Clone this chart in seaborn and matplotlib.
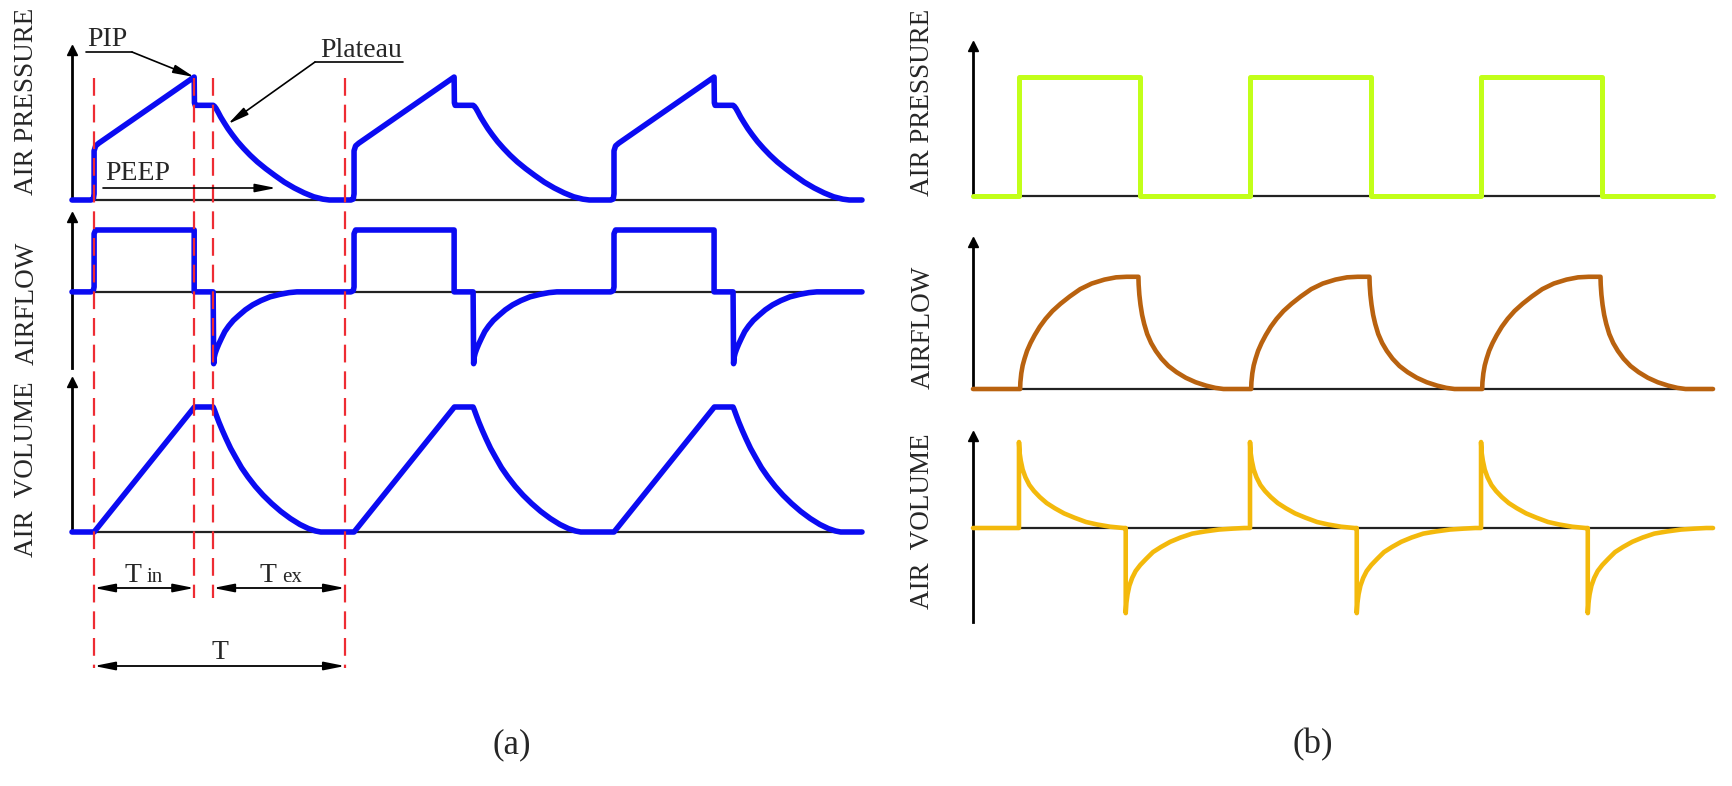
import matplotlib
matplotlib.use("Agg")
import matplotlib.pyplot as plt
import pandas as pd
import seaborn as sns

# ---------------- data ----------------
# (a) volume-controlled breaths; time in breath periods, amplitude normalised
LEFT_CYCLE_STARTS = [0.0, 1.0, 2.0]
LEFT_T_RANGE = [-0.085, 2.954]

PRESS_A_T = [-0.012, -0.003, 0.000, 0.000, 0.006, 0.018, 0.385, 0.386, 0.389, 0.458,
             0.463, 0.469, 0.477, 0.487, 0.500, 0.515, 0.532, 0.552, 0.575, 0.600,
             0.628, 0.660, 0.695, 0.732, 0.770, 0.808, 0.845, 0.880, 0.905]
PRESS_A_V = [0.000, 0.008, 0.050, 0.400, 0.440, 0.462, 1.000, 0.790, 0.770, 0.770,
             0.762, 0.745, 0.715, 0.675, 0.630, 0.580, 0.530, 0.475, 0.420, 0.365,
             0.310, 0.255, 0.200, 0.145, 0.098, 0.058, 0.026, 0.007, 0.000]

FLOW_A_T = [-0.012, -0.003, 0.000, 0.000, 0.006, 0.385, 0.385, 0.458, 0.460,
            0.462, 0.466, 0.472, 0.480, 0.490, 0.503, 0.518, 0.536, 0.557, 0.582,
            0.610, 0.642, 0.677, 0.715, 0.750, 0.780]
FLOW_A_V = [0.00, 0.02, 0.08, 0.94, 1.00, 1.00, 0.00, 0.00, -1.16,
            -1.06, -0.99, -0.92, -0.84, -0.75, -0.64, -0.55, -0.46, -0.38, -0.29,
            -0.21, -0.14, -0.08, -0.04, -0.012, 0.00]

VOL_A_T = [0.000, 0.386, 0.458, 0.463, 0.470, 0.480, 0.493, 0.508, 0.525, 0.545,
           0.567, 0.592, 0.620, 0.650, 0.683, 0.718, 0.755, 0.792, 0.825, 0.852, 0.872]
VOL_A_V = [0.000, 1.000, 1.000, 0.975, 0.935, 0.880, 0.815, 0.745, 0.670, 0.595,
           0.515, 0.440, 0.365, 0.295, 0.228, 0.165, 0.108, 0.060, 0.027, 0.008, 0.000]

PIP_POINT = (0.385, 1.0)
# event times for the dashed guides: start, end of Tin, end of plateau, end of T
EVENT_T = [0.0, 0.385, 0.458, 0.965]

# (b) pressure-controlled breaths
RIGHT_CYCLE_STARTS = [0.0, 1.0, 2.0]
RIGHT_T_RANGE = [-0.199, 3.004]

PRESS_B_T = [0.000, 0.000, 0.522, 0.522]
PRESS_B_V = [0.0, 1.0, 1.0, 0.0]

FLOW_B_T = [0.005, 0.006, 0.010, 0.016, 0.024, 0.035, 0.050, 0.068, 0.090, 0.115,
            0.145, 0.180, 0.220, 0.265, 0.315, 0.370, 0.420, 0.466,
            0.517, 0.518, 0.521, 0.526, 0.533, 0.542, 0.555, 0.572, 0.592, 0.617,
            0.647, 0.682, 0.722, 0.765, 0.810, 0.850, 0.885]
FLOW_B_V = [0.00, 0.06, 0.14, 0.21, 0.27, 0.34, 0.41, 0.48, 0.555, 0.625,
            0.695, 0.76, 0.825, 0.89, 0.94, 0.975, 0.995, 1.00,
            1.00, 0.93, 0.84, 0.75, 0.66, 0.58, 0.49, 0.41, 0.34, 0.27,
            0.205, 0.15, 0.10, 0.06, 0.03, 0.01, 0.00]

VOL_B_T = [0.000, 0.000, 0.003, 0.008, 0.016, 0.028, 0.045, 0.065, 0.090, 0.120,
           0.155, 0.195, 0.240, 0.290, 0.340, 0.395, 0.452,
           0.462, 0.462, 0.465, 0.470, 0.478, 0.490, 0.505, 0.525, 0.550, 0.580,
           0.615, 0.655, 0.700, 0.750, 0.805, 0.865, 0.925, 0.975]
VOL_B_V = [0.00, 1.00, 0.87, 0.78, 0.68, 0.59, 0.50, 0.43, 0.36, 0.29,
           0.23, 0.17, 0.12, 0.07, 0.04, 0.015, 0.00,
           0.00, -0.99, -0.87, -0.77, -0.67, -0.58, -0.50, -0.43, -0.36, -0.28,
           -0.22, -0.16, -0.11, -0.065, -0.04, -0.018, -0.007, 0.00]

AXIS_LABELS = ["AIR PRESSURE", "AIRFLOW", "AIR  VOLUME"]
PANEL_LABELS = ["(a)", "(b)"]

# ---------------- styling ----------------
W, H = 1733, 786
BLUE = "#0B0BF2"
LIME = "#C2FF19"
BROWN = "#B9620F"
GOLD = "#F3B90C"
RED = "#EE2C33"

sns.set_theme(style="white")
plt.rcParams["font.family"] = ["Liberation Serif", "DejaVu Serif"]

fig = plt.figure(figsize=(W / 100, H / 100), dpi=100)
fig.patch.set_facecolor("white")


def add_ax(x0, x1, ytop, ybot):
    return fig.add_axes([x0 / W, 1 - ybot / H, (x1 - x0) / W, (ybot - ytop) / H])


def build(cycle_t, cycle_v, starts, trange):
    t, v = [trange[0]], [0.0]
    for s in starts:
        t += [s + x for x in cycle_t]
        v += list(cycle_v)
    t.append(trange[1])
    v.append(0.0)
    return pd.DataFrame({"t": t, "v": v})


def style(ax, trange, ylim):
    ax.set_xlim(trange)
    ax.set_ylim(ylim)
    ax.set_xticks([])
    ax.set_yticks([])
    ax.set_xlabel("")
    ax.set_ylabel("")
    ax.patch.set_alpha(0)
    for s in ["top", "right"]:
        ax.spines[s].set_visible(False)
    ax.spines["left"].set_linewidth(2.0)
    ax.spines["left"].set_color("black")
    ax.spines["bottom"].set_linewidth(1.6)
    ax.spines["bottom"].set_color("#222222")
    ax.spines["bottom"].set_position(("data", 0))
    ax.plot(0, 1, marker="^", color="black", ms=7, transform=ax.transAxes, clip_on=False)


def draw(ax, df, color, lw):
    sns.lineplot(data=df, x="t", y="v", sort=False, estimator=None, color=color,
                 lw=lw, ax=ax, legend=False, clip_on=False, zorder=4)


# ---- left column (a) ----
LX0, LX1 = 72, 862
ax_lp = add_ax(LX0, LX1, 50, 200)
ax_lf = add_ax(LX0, LX1, 217, 368)
ax_lv = add_ax(LX0, LX1, 382, 532)
draw(ax_lp, build(PRESS_A_T, PRESS_A_V, LEFT_CYCLE_STARTS, LEFT_T_RANGE), BLUE, 4.0)
draw(ax_lf, build(FLOW_A_T, FLOW_A_V, LEFT_CYCLE_STARTS, LEFT_T_RANGE), BLUE, 4.0)
draw(ax_lv, build(VOL_A_T, VOL_A_V, LEFT_CYCLE_STARTS, LEFT_T_RANGE), BLUE, 4.0)
style(ax_lp, LEFT_T_RANGE, (0, 1.22))
style(ax_lf, LEFT_T_RANGE, (-1.23, 1.21))
style(ax_lv, LEFT_T_RANGE, (0, 1.20))

# ---- right column (b) ----
RX0, RX1 = 973, 1713
ax_rp = add_ax(RX0, RX1, 46, 196)
ax_rf = add_ax(RX0, RX1, 242, 389)
ax_rv = add_ax(RX0, RX1, 436, 622)
draw(ax_rp, build(PRESS_B_T, PRESS_B_V, RIGHT_CYCLE_STARTS, RIGHT_T_RANGE), LIME, 3.6)
draw(ax_rf, build(FLOW_B_T, FLOW_B_V, RIGHT_CYCLE_STARTS, RIGHT_T_RANGE), BROWN, 3.3)
draw(ax_rv, build(VOL_B_T, VOL_B_V, RIGHT_CYCLE_STARTS, RIGHT_T_RANGE), GOLD, 3.3)
style(ax_rp, RIGHT_T_RANGE, (0, 1.26))
style(ax_rf, RIGHT_T_RANGE, (0, 1.31))
style(ax_rv, RIGHT_T_RANGE, (-1.093, 1.07))

# ---- overlay in time units (left) for guides and dimensions ----
ax_o = fig.add_axes([LX0 / W, 0, (LX1 - LX0) / W, 1])
ax_o.set_xlim(LEFT_T_RANGE)
ax_o.set_ylim(H, 0)
ax_o.axis("off")
guide_spans = [(78, 668), (78, 598), (78, 598), (78, 668)]
for t, (y0, y1) in zip(EVENT_T, guide_spans):
    ax_o.plot([t, t], [y0, y1], color=RED, lw=1.6, ls=(0, (8, 4)), zorder=1)

dim_style = dict(arrowstyle="<|-|>,head_length=0.7,head_width=0.14", color="black",
                 lw=1.3, shrinkA=0, shrinkB=0, mutation_scale=18)
dims = [(EVENT_T[0], EVENT_T[1], 588, "T", "in", 582),
        (EVENT_T[2], EVENT_T[3], 588, "T", "ex", 582),
        (EVENT_T[0], EVENT_T[3], 666, "T", "", 659)]
for a, b, y, main, sub, ybase in dims:
    ax_o.annotate("", xy=(b, y), xytext=(a, y), arrowprops=dim_style)
    mid = (a + b) / 2
    if sub:
        ax_o.annotate(main, xy=(mid, ybase), xytext=(-2, 0), textcoords="offset points",
                      ha="right", va="baseline", fontsize=20)
        ax_o.annotate(sub, xy=(mid, ybase), xytext=(2, 0), textcoords="offset points",
                      ha="left", va="baseline", fontsize=15)
    else:
        ax_o.text(mid, ybase, main, ha="center", va="baseline", fontsize=20)

# ---- full-figure overlay in pixel layout coordinates for callouts / labels ----
ax_f = fig.add_axes([0, 0, 1, 1])
ax_f.set_xlim(0, W)
ax_f.set_ylim(H, 0)
ax_f.axis("off")

lead = dict(arrowstyle="-|>,head_length=0.7,head_width=0.14", color="black", lw=1.2,
            shrinkA=0, shrinkB=0, mutation_scale=18)
# PIP
ax_f.text(87, 46, "PIP", ha="left", va="baseline", fontsize=20)
ax_f.plot([86, 132], [52, 52], color="black", lw=1.2)
ax_f.annotate("", xy=PIP_POINT, xycoords=ax_lp.transData, xytext=(132, 52),
              textcoords=ax_f.transData, arrowprops=lead)
# Plateau
ax_f.text(320, 57, "Plateau", ha="left", va="baseline", fontsize=20)
ax_f.plot([315, 403], [62, 62], color="black", lw=1.2)
ax_f.annotate("", xy=(228, 124), xytext=(315, 62), arrowprops=lead)
# PEEP
ax_f.text(105, 180, "PEEP", ha="left", va="baseline", fontsize=20)
ax_f.annotate("", xy=(276, 188), xytext=(103, 188), arrowprops=lead)

# axis titles
for x in (27, 923):
    ys = (101, 303, 469) if x == 27 else (102, 327, 521)
    for y, lab in zip(ys, AXIS_LABELS):
        ax_f.text(x, y, lab, rotation=90, ha="center", va="center", fontsize=19.5)

ax_f.text(512, 745, PANEL_LABELS[0], ha="center", va="center", fontsize=25)
ax_f.text(1313, 745, PANEL_LABELS[1], ha="center", va="center", fontsize=25)

fig.savefig("out.png", dpi=100, facecolor="white")
